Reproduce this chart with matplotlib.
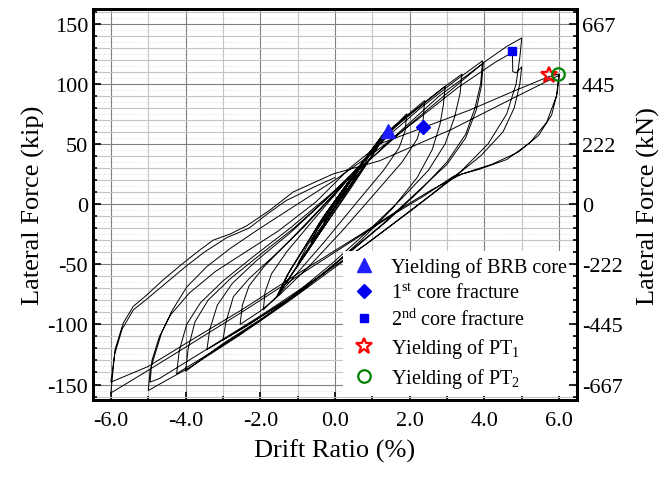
import numpy as np
import matplotlib
matplotlib.use("Agg")
import matplotlib.pyplot as plt
from matplotlib.ticker import MultipleLocator

plt.rcParams['font.family'] = ['Liberation Serif', 'DejaVu Serif']
plt.rcParams['mathtext.fontset'] = 'custom'
plt.rcParams['mathtext.rm'] = 'Liberation Serif'
plt.rcParams['mathtext.it'] = 'Liberation Serif:italic'
plt.rcParams['axes.unicode_minus'] = False

# hysteresis trace (drift %, force kip), in loading order
elastic = [(0, 0), (0.3, 13), (0.15, 5), (-0.3, -15), (-0.15, -6), (0.65, 29), (0.45, 18),
           (-0.65, -32), (-0.45, -20), (1.0, 45), (0.75, 31), (0, -3), (-1.0, -50),
           (-0.75, -35), (0, 2), (1.38, 61), (1.1, 45), (0.4, 12), (-0.6, -33), (-1.56, -77),
           (-1.25, -58), (-0.4, -15), (0.5, 25), (1.38, 62), (1.12, 46), (0.3, 9), (-0.7, -38),
           (-1.54, -76), (-1.28, -59), (-0.3, -10), (0.7, 33), (1.36, 61), (1.05, 43),
           (0.1, 2), (-0.9, -46), (-1.52, -75), (-1.2, -55), (-0.2, -6), (0.8, 37), (1.4, 60)]
cycle_2 = [(1.7, 68), (1.92, 75), (1.88, 61), (1.72, 47), (1.3, 28), (0.6, 2), (-0.3, -32),
           (-1.0, -57), (-1.5, -75), (-1.92, -88), (-1.87, -73), (-1.7, -58), (-1.3, -40),
           (-0.6, -14), (0.2, 15), (0.9, 40), (1.4, 59), (1.9, 73), (2.4, 86)]
cycle_25 = [(2.36, 70), (2.2, 54), (1.8, 35), (1.1, 10), (0.2, -22), (-0.7, -52), (-1.5, -76),
            (-2.0, -89), (-2.54, -100), (-2.48, -84), (-2.3, -68), (-1.9, -52), (-1.2, -30),
            (-0.4, -4), (0.5, 26), (1.3, 55), (1.9, 72), (2.5, 87), (2.95, 98)]
cycle_3 = [(2.9, 82), (2.81, 66), (2.6, 45), (2.2, 22), (1.56, -3), (0.7, -30), (-0.3, -58),
           (-1.3, -80), (-2.2, -98), (-3.0, -113), (-2.92, -98), (-2.72, -77), (-2.3, -62),
           (-1.6, -42), (-0.8, -18), (0.1, 12), (0.9, 40), (1.6, 64), (2.4, 84), (3.0, 99),
           (3.4, 108)]
cycle_35 = [(3.35, 92), (3.2, 72), (2.95, 50), (2.5, 28), (1.8, 5), (0.9, -22), (-0.1, -50),
            (-1.2, -78), (-2.4, -102), (-3.43, -121), (-3.35, -104), (-3.15, -84),
            (-2.75, -66), (-2.1, -47), (-1.2, -24), (-0.3, 2), (0.6, 30), (1.4, 56),
            (2.3, 80), (3.2, 102), (3.95, 119)]
cycle_4 = [(3.9, 100), (3.75, 80), (3.5, 58), (3.0, 35), (2.3, 12), (1.4, -14), (0.4, -40),
           (-0.8, -70), (-2.0, -96), (-3.0, -116), (-4.0, -139), (-3.93, -120), (-3.75, -98),
           (-3.4, -80), (-2.8, -62), (-2.0, -42), (-1.1, -20), (-0.2, 5), (0.8, 33), (1.8, 62),
           (2.8, 90), (3.97, 117)]
cycle_4b = [(3.92, 98), (3.78, 78), (3.5, 55), (3.0, 33), (2.2, 10), (1.3, -16), (0.3, -42),
            (-0.9, -72), (-2.1, -99), (-3.2, -121), (-4.24, -141), (-4.17, -122),
            (-3.97, -100), (-3.6, -82), (-3.0, -64), (-2.2, -44), (-1.2, -20), (-0.2, 6),
            (0.9, 36), (2.0, 66), (3.0, 92), (4.0, 118), (4.6, 131), (5.0, 138)]
cycle_5 = [(4.95, 122), (4.85, 100), (4.6, 75), (4.1, 50), (3.4, 28), (2.5, 6), (1.4, -20),
           (0.2, -48), (-1.2, -80), (-2.6, -110), (-3.9, -136), (-4.6, -148), (-5.0, -155),
           (-4.95, -138), (-4.64, -107), (-4.37, -89), (-3.97, -69), (-3.43, -52),
           (-2.81, -37), (-2.0, -20), (-1.0, 0), (0.0, 20), (1.1, 44), (2.2, 70), (3.3, 97),
           (4.3, 118), (4.75, 126), (4.76, 110), (4.85, 109), (5.0, 114)]
cycle_5b = [(4.95, 100), (4.8, 80), (4.5, 60), (3.9, 40), (3.1, 20), (2.1, -4), (0.9, -32),
            (-0.5, -62), (-2.0, -93), (-3.5, -122), (-4.7, -145), (-4.95, -148),
            (-4.9, -130), (-4.7, -110), (-4.4, -92), (-3.9, -74), (-3.2, -56), (-2.4, -40),
            (-1.5, -22), (-0.5, 2), (0.4, 30), (1.2, 50), (2.4, 64), (3.6, 78), (4.8, 94),
            (5.73, 106), (6.0, 108)]
cycle_6 = [(5.93, 90), (5.67, 68), (5.22, 51), (4.6, 37), (3.88, 29), (3.17, 23), (2.37, 6.5),
           (1.65, -7), (0.5, -30), (-1.0, -60), (-2.5, -90), (-4.0, -119), (-5.2, -142),
           (-6.0, -157), (-5.89, -121), (-5.67, -99), (-5.4, -85), (-5.09, -77), (-4.6, -63),
           (-4.06, -49), (-3.61, -38), (-3.26, -30), (-2.81, -25), (-2.36, -18), (-1.74, -5),
           (-1.12, 10), (-0.05, 25), (1.2, 36), (3.12, 62), (4.77, 88), (6.0, 107)]
cycle_6b = [(5.95, 92), (5.8, 74), (5.45, 57), (4.9, 43), (4.2, 33), (3.4, 25), (2.6, 12),
            (1.8, -3), (0.6, -27), (-1.0, -58), (-2.5, -88), (-4.0, -116), (-5.0, -135),
            (-6.0, -148), (-5.9, -125), (-5.7, -104), (-5.4, -88), (-5.0, -78), (-4.5, -65),
            (-4.0, -52), (-3.5, -40), (-2.9, -28), (-2.3, -20), (-1.8, -8), (-1.3, 3),
            (-0.5, 15), (0.0, 22)]

# damage events
event_labels = ['Yielding of BRB core', r'1$^{\rm st}$ core fracture',
                r'2$^{\rm nd}$ core fracture', r'Yielding of PT$_{\rm 1}$',
                r'Yielding of PT$_{\rm 2}$']
event_x = [1.43, 2.36, 4.75, 5.73, 5.97]
event_y = [61, 64, 127, 107, 108]

kip_ticks = [-150, -100, -50, 0, 50, 100, 150]
kn_labels = ['-667', '-445', '-222', '0', '222', '445', '667']

trace = np.array(elastic + cycle_2 + cycle_25 + cycle_3 + cycle_35 + cycle_4 + cycle_4b
                 + cycle_5 + cycle_5b + cycle_6 + cycle_6b)

fig = plt.figure(figsize=(6.64, 4.81), dpi=100)
ax = fig.add_axes([0.140, 0.166, 0.729, 0.813])

ax.set_xlim(-6.48, 6.48)
ax.set_ylim(-163, 162)

# grid: light every 1 % / 10 kip, darker every 2 % / 50 kip, dotted every 5 kip
ax.xaxis.set_major_locator(MultipleLocator(2))
ax.xaxis.set_minor_locator(MultipleLocator(1))
ax.yaxis.set_major_locator(MultipleLocator(50))
ax.yaxis.set_minor_locator(MultipleLocator(10))
for v in np.arange(-155, 160, 10):
    ax.axhline(v, color='#d8d8d8', lw=0.6, ls=(0, (1, 1.5)), zorder=0)
ax.grid(which='minor', color='#c4c4c4', lw=0.8, zorder=0)
ax.grid(which='major', color='#808080', lw=0.8, zorder=0)
ax.set_axisbelow(True)

ax.plot(trace[:, 0], trace[:, 1], color='black', lw=0.7, zorder=2)

markers = ['^', 'D', 's', '*', 'o']
colors = ['#2020ff', '#0000ee', '#0000ee', 'red', 'green']
sizes = [10, 7, 6, 12, 9]
for lab, x, y, m, c, s in zip(event_labels, event_x, event_y, markers, colors, sizes):
    if m in ('*', 'o'):
        ax.plot(x, y, m, ms=s, mfc='none', mec=c, mew=1.6, ls='none', label=lab, zorder=4)
    else:
        ax.plot(x, y, m, ms=s, color=c, ls='none', label=lab, zorder=4)

ax.set_xticks([-6, -4, -2, 0, 2, 4, 6])
ax.set_xticklabels(['-6.0', '-4.0', '-2.0', '0.0', '2.0', '4.0', '6.0'])
ax.set_yticks(kip_ticks)
ax.tick_params(which='both', direction='in', labelsize=16, width=1.2)
ax.tick_params(which='major', length=6)
ax.tick_params(which='minor', length=3)
ax.tick_params(axis='x', pad=8)
ax.set_xlabel('Drift Ratio (%)', fontsize=19, labelpad=6)
ax.set_ylabel('Lateral Force (kip)', fontsize=19, labelpad=2)
for sp in ax.spines.values():
    sp.set_linewidth(2)

ax2 = ax.twinx()
ax2.set_ylim(ax.get_ylim())
ax2.set_yticks(kip_ticks)
ax2.set_yticklabels(kn_labels)
ax2.yaxis.set_minor_locator(MultipleLocator(10))
ax2.tick_params(which='both', direction='in', labelsize=16, width=1.2)
ax2.tick_params(which='major', length=6)
ax2.tick_params(which='minor', length=3)
ax2.set_ylabel('Lateral Force (kN)', fontsize=19, labelpad=10)
for sp in ax2.spines.values():
    sp.set_linewidth(2)

leg = ax.legend(loc='lower right', bbox_to_anchor=(1.0, 0.0), borderaxespad=0.2,
                fontsize=14.5, frameon=True, fancybox=False, framealpha=1,
                edgecolor='none', labelspacing=0.3, handletextpad=0.6,
                handlelength=1.5, borderpad=0.3)
leg.set_zorder(5)

fig.savefig('out.png', dpi=100)
